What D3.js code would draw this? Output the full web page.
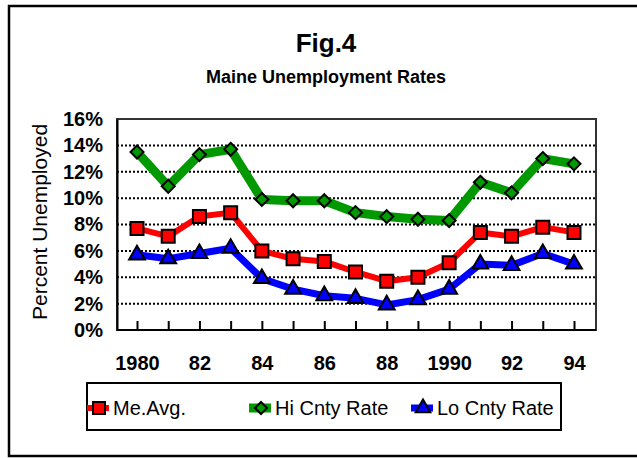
<!DOCTYPE html>
<html>
<head>
<meta charset="utf-8">
<script src="https://cdn.jsdelivr.net/npm/d3@7/dist/d3.min.js"></script>
<style>
  body { margin: 0; background: #fff; }
  text { font-family: Arial, "Liberation Sans", sans-serif; }
</style>
</head>
<body>
<svg id="chart" width="637" height="458"></svg>
<script>
// Data
var years = [1980, 1981, 1982, 1983, 1984, 1985, 1986, 1987, 1988, 1989, 1990, 1991, 1992, 1993, 1994];
var meAvg = [7.7, 7.1, 8.6, 8.9, 6.0, 5.4, 5.2, 4.4, 3.7, 4.0, 5.1, 7.4, 7.1, 7.8, 7.4];
var hiCnty = [13.5, 10.9, 13.3, 13.7, 9.9, 9.8, 9.8, 8.9, 8.6, 8.4, 8.3, 11.2, 10.4, 13.0, 12.6];
var loCnty = [5.7, 5.4, 5.8, 6.2, 3.9, 3.1, 2.6, 2.4, 1.9, 2.3, 3.1, 5.0, 4.9, 5.8, 5.0];
var yTicks = [0, 2, 4, 6, 8, 10, 12, 14, 16];
var xLabels = {1980: '1980', 1982: '82', 1984: '84', 1986: '86', 1988: '88', 1990: '1990', 1992: '92', 1994: '94'};

var series = [
  { name: 'Me.Avg.', values: meAvg, color: '#ff0000', width: 6, shape: 'square' },
  { name: 'Hi Cnty Rate', values: hiCnty, color: '#009900', width: 9, shape: 'diamond' },
  { name: 'Lo Cnty Rate', values: loCnty, color: '#0000ff', width: 7, shape: 'triangle' }
];

var svg = d3.select('#chart');

// plot box
var plot = { left: 117, right: 596, top: 119, bottom: 330 };

var x = d3.scaleLinear().domain([1980, 1994]).range([137, 574]);
var y = d3.scaleLinear().domain([0, 16]).range([plot.bottom, plot.top]);

// outer frame
svg.append('rect')
  .attr('x', 9).attr('y', 6)
  .attr('width', 640).attr('height', 450)
  .attr('fill', 'none').attr('stroke', '#000').attr('stroke-width', 2.5);

// titles
svg.append('text')
  .attr('x', 326).attr('y', 52)
  .attr('text-anchor', 'middle')
  .style('font-size', '26px').style('font-weight', 'bold')
  .text('Fig.4');

svg.append('text')
  .attr('x', 326).attr('y', 83)
  .attr('text-anchor', 'middle')
  .style('font-size', '18px').style('font-weight', 'bold')
  .text('Maine Unemployment Rates');

// plot frame (top/right)
svg.append('rect')
  .attr('x', plot.left).attr('y', plot.top)
  .attr('width', plot.right - plot.left).attr('height', plot.bottom - plot.top)
  .attr('fill', 'none').attr('stroke', '#333').attr('stroke-width', 2);

// dotted gridlines
svg.append('g')
  .selectAll('line')
  .data(yTicks.filter(function(t) { return t > 0 && t < 16; }))
  .join('line')
    .attr('x1', plot.left).attr('x2', plot.right)
    .attr('y1', function(d) { return y(d); })
    .attr('y2', function(d) { return y(d); })
    .attr('stroke', '#000').attr('stroke-width', 2)
    .attr('stroke-dasharray', '2,2');

// y axis
var yAxis = svg.append('g')
  .attr('transform', 'translate(' + plot.left + ',0)')
  .call(d3.axisLeft(y).tickValues(yTicks).tickSize(0).tickPadding(14)
    .tickFormat(function(d) { return d + '%'; }));
yAxis.select('.domain').attr('stroke', '#000').attr('stroke-width', 2);
yAxis.selectAll('text')
  .attr('fill', '#000')
  .style('font-size', '20px').style('font-weight', 'bold')
  .style('font-family', 'Arial, "Liberation Sans", sans-serif');

// x axis, ticks every year pointing inward
var xAxis = svg.append('g')
  .attr('transform', 'translate(0,' + plot.bottom + ')')
  .call(d3.axisBottom(x).tickValues(years).tickSizeInner(-9).tickSizeOuter(0).tickPadding(26)
    .tickFormat(function(d) { return xLabels[d] || ''; }));
xAxis.select('.domain').attr('d', 'M' + plot.left + ',0H' + plot.right)
  .attr('stroke', '#000').attr('stroke-width', 2);
xAxis.selectAll('.tick line').attr('stroke', '#000').attr('stroke-width', 2);
xAxis.selectAll('text')
  .attr('fill', '#000')
  .style('font-size', '20px').style('font-weight', 'bold')
  .style('font-family', 'Arial, "Liberation Sans", sans-serif');

// y axis title
svg.append('text')
  .attr('transform', 'translate(47,222) rotate(-90)')
  .attr('text-anchor', 'middle')
  .style('font-size', '21px')
  .text('Percent Unemployed');

// marker helper
function marker(sel, shape, color, size) {
  var p;
  if (shape === 'diamond') {
    var h = size / 2;
    p = 'M0,' + (-h) + 'L' + h + ',0L0,' + h + 'L' + (-h) + ',0Z';
  } else if (shape === 'square') {
    p = d3.symbol().type(d3.symbolSquare).size(size * size)();
  } else {
    p = d3.symbol().type(d3.symbolTriangle).size(size * size * 0.55)();
  }
  sel.append('path')
    .attr('d', p)
    .attr('fill', color)
    .attr('stroke', '#000')
    .attr('stroke-width', 2)
    .attr('stroke-linejoin', 'miter');
}

var markerSize = { square: 13, diamond: 13, triangle: 14 };

var line = d3.line()
  .x(function(d, i) { return x(years[i]); })
  .y(function(d) { return y(d); });

series.forEach(function(s) {
  svg.append('path')
    .datum(s.values)
    .attr('d', line)
    .attr('fill', 'none')
    .attr('stroke', s.color)
    .attr('stroke-width', s.width)
    .attr('stroke-linejoin', 'round');

  svg.append('g')
    .selectAll('g')
    .data(s.values)
    .join('g')
      .attr('transform', function(d, i) { return 'translate(' + x(years[i]) + ',' + y(d) + ')'; })
      .each(function() { marker(d3.select(this), s.shape, s.color, markerSize[s.shape]); });
});

// legend
var legend = svg.append('g');
legend.append('rect')
  .attr('x', 87).attr('y', 383)
  .attr('width', 474).attr('height', 47)
  .attr('fill', '#fff').attr('stroke', '#000').attr('stroke-width', 2);

var legendX = [87, 249, 411];
series.forEach(function(s, i) {
  var g = legend.append('g').attr('transform', 'translate(' + legendX[i] + ',408)');
  g.append('line')
    .attr('x1', 0).attr('x2', 22)
    .attr('stroke', s.color).attr('stroke-width', s.width);
  var m = g.append('g').attr('transform', 'translate(12,0)');
  marker(m, s.shape, s.color, markerSize[s.shape] - 1);
  g.append('text')
    .attr('x', 26).attr('y', 7)
    .style('font-size', '20px')
    .text(s.name);
});
</script>
</body>
</html>
